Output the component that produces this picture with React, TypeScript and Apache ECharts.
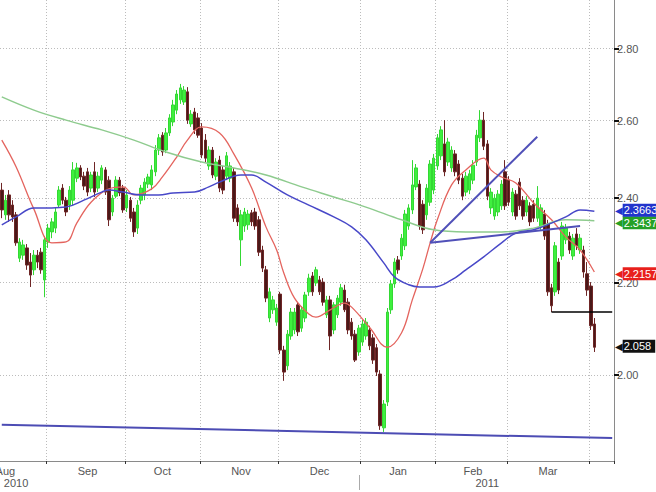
import React, { useEffect, useRef } from 'react';
import * as echarts from 'echarts';

const FONT = '"Liberation Sans", Arial, sans-serif';

// Weekday categories start on this date
const START_DATE = [2010, 7, 13];
const CATEGORY_COUNT = 172;

const monthStartIndex = [13, 35, 56, 78, 101, 122, 142, 165];
const monthLabelIndex = [1, 24, 45, 67, 89, 111, 132, 153];
const monthLabels = ['Aug', 'Sep', 'Oct', 'Nov', 'Dec', 'Jan', 'Feb', 'Mar'];
const yearDividerIndex = [100];
const yearLabelIndex = [4, 136];
const yearLabels = ['2010', '2011'];
const yTickValues = [2.0, 2.2, 2.4, 2.6, 2.8];

const opens = [
  2.420, 2.359, 2.408, 2.383, 2.359, 2.256, 2.263, 2.280, 2.247, 2.229,
  2.263, 2.270, 2.206, 2.294, 2.318, 2.327, 2.383, 2.425, 2.395, 2.383,
  2.395, 2.450, 2.476, 2.455, 2.466, 2.425, 2.466, 2.425, 2.445, 2.471,
  2.445, 2.366, 2.405, 2.445, 2.425, 2.376, 2.395, 2.366, 2.327, 2.395,
  2.408, 2.435, 2.433, 2.466, 2.522, 2.561, 2.522, 2.567, 2.596, 2.628,
  2.656, 2.650, 2.678, 2.591, 2.623, 2.607, 2.580, 2.548, 2.481, 2.522,
  2.455, 2.496, 2.471, 2.455, 2.450, 2.466, 2.376, 2.299, 2.332, 2.335,
  2.364, 2.366, 2.347, 2.275, 2.229, 2.121, 2.139, 2.112, 2.174, 2.052,
  2.019, 2.082, 2.095, 2.150, 2.099, 2.121, 2.179, 2.215, 2.199, 2.206,
  2.201, 2.128, 2.161, 2.095, 2.128, 2.156, 2.183, 2.156, 2.112, 2.086,
  2.048, 2.069, 2.082, 2.095, 2.078, 2.057, 2.002, 1.894, 1.945, 2.139,
  2.197, 2.252, 2.261, 2.285, 2.332, 2.371, 2.428, 2.435, 2.385, 2.359,
  2.390, 2.420, 2.481, 2.507, 2.538, 2.491, 2.476, 2.512, 2.486, 2.450,
  2.415, 2.420, 2.445, 2.491, 2.554, 2.601, 2.538, 2.376, 2.356, 2.366,
  2.381, 2.466, 2.445, 2.366, 2.410, 2.440, 2.395, 2.366, 2.381, 2.385,
  2.351, 2.332, 2.361, 2.337, 2.188, 2.179, 2.247, 2.261, 2.299, 2.308,
  2.261, 2.313, 2.275, 2.275, 2.220, 2.192, 2.108,
];

const closes = [
  2.371, 2.395, 2.359, 2.354, 2.292, 2.294, 2.287, 2.240, 2.217, 2.263,
  2.247, 2.229, 2.299, 2.327, 2.342, 2.366, 2.420, 2.395, 2.366, 2.420,
  2.471, 2.476, 2.453, 2.430, 2.415, 2.458, 2.415, 2.455, 2.476, 2.415,
  2.347, 2.400, 2.445, 2.413, 2.371, 2.408, 2.351, 2.318, 2.383, 2.425,
  2.440, 2.453, 2.471, 2.522, 2.554, 2.517, 2.567, 2.607, 2.642, 2.672,
  2.689, 2.683, 2.601, 2.617, 2.575, 2.561, 2.509, 2.501, 2.522, 2.458,
  2.491, 2.425, 2.420, 2.507, 2.481, 2.351, 2.342, 2.359, 2.366, 2.361,
  2.342, 2.332, 2.270, 2.233, 2.165, 2.179, 2.161, 2.143, 2.052, 2.006,
  2.086, 2.134, 2.134, 2.091, 2.139, 2.172, 2.210, 2.179, 2.229, 2.179,
  2.156, 2.161, 2.082, 2.150, 2.165, 2.188, 2.139, 2.095, 2.082, 2.031,
  2.099, 2.108, 2.112, 2.061, 2.031, 2.006, 1.898, 1.941, 2.134, 2.197,
  2.247, 2.229, 2.303, 2.361, 2.376, 2.433, 2.476, 2.332, 2.323, 2.425,
  2.486, 2.501, 2.554, 2.575, 2.466, 2.543, 2.522, 2.466, 2.445, 2.405,
  2.455, 2.461, 2.483, 2.561, 2.601, 2.532, 2.405, 2.415, 2.400, 2.410,
  2.435, 2.381, 2.390, 2.415, 2.356, 2.381, 2.356, 2.395, 2.342, 2.351,
  2.400, 2.376, 2.308, 2.179, 2.148, 2.285, 2.183, 2.332, 2.327, 2.275,
  2.303, 2.285, 2.303, 2.224, 2.183, 2.104, 2.058,
];

const lows = [
  2.351, 2.347, 2.342, 2.342, 2.285, 2.247, 2.252, 2.229, 2.190, 2.217,
  2.233, 2.220, 2.167, 2.280, 2.303, 2.315, 2.376, 2.385, 2.356, 2.371,
  2.383, 2.440, 2.445, 2.420, 2.405, 2.415, 2.403, 2.415, 2.435, 2.408,
  2.332, 2.356, 2.400, 2.405, 2.364, 2.366, 2.342, 2.306, 2.313, 2.385,
  2.395, 2.425, 2.420, 2.455, 2.509, 2.507, 2.514, 2.559, 2.585, 2.617,
  2.645, 2.642, 2.591, 2.583, 2.564, 2.554, 2.501, 2.491, 2.471, 2.450,
  2.445, 2.415, 2.410, 2.445, 2.440, 2.342, 2.332, 2.238, 2.318, 2.323,
  2.332, 2.323, 2.261, 2.224, 2.156, 2.112, 2.130, 2.104, 2.044, 1.988,
  2.010, 2.074, 2.086, 2.082, 2.091, 2.112, 2.170, 2.170, 2.192, 2.172,
  2.148, 2.121, 2.052, 2.086, 2.121, 2.148, 2.134, 2.086, 2.074, 2.027,
  2.040, 2.061, 2.074, 2.052, 2.023, 1.998, 1.890, 1.886, 1.937, 2.130,
  2.188, 2.220, 2.252, 2.275, 2.323, 2.361, 2.420, 2.323, 2.313, 2.347,
  2.381, 2.410, 2.471, 2.496, 2.455, 2.481, 2.466, 2.455, 2.435, 2.395,
  2.405, 2.410, 2.435, 2.481, 2.543, 2.522, 2.395, 2.361, 2.347, 2.356,
  2.371, 2.371, 2.381, 2.356, 2.347, 2.371, 2.347, 2.356, 2.332, 2.342,
  2.342, 2.323, 2.299, 2.170, 2.134, 2.170, 2.174, 2.252, 2.289, 2.266,
  2.252, 2.275, 2.266, 2.211, 2.170, 2.095, 2.048,
];

const highs = [
  2.438, 2.408, 2.420, 2.395, 2.366, 2.303, 2.299, 2.289, 2.268, 2.275,
  2.275, 2.280, 2.308, 2.337, 2.351, 2.376, 2.430, 2.435, 2.403, 2.430,
  2.491, 2.489, 2.483, 2.466, 2.476, 2.466, 2.491, 2.466, 2.483, 2.478,
  2.455, 2.408, 2.455, 2.453, 2.433, 2.420, 2.403, 2.376, 2.395, 2.433,
  2.450, 2.461, 2.483, 2.535, 2.564, 2.569, 2.580, 2.617, 2.656, 2.683,
  2.700, 2.694, 2.691, 2.628, 2.634, 2.620, 2.593, 2.564, 2.532, 2.530,
  2.501, 2.507, 2.481, 2.517, 2.491, 2.476, 2.385, 2.371, 2.376, 2.371,
  2.371, 2.376, 2.356, 2.285, 2.238, 2.188, 2.170, 2.152, 2.179, 2.061,
  2.095, 2.143, 2.143, 2.156, 2.147, 2.179, 2.220, 2.224, 2.236, 2.215,
  2.210, 2.170, 2.170, 2.156, 2.172, 2.197, 2.195, 2.165, 2.121, 2.095,
  2.106, 2.117, 2.121, 2.104, 2.086, 2.065, 2.010, 1.949, 2.143, 2.206,
  2.256, 2.261, 2.313, 2.371, 2.385, 2.496, 2.486, 2.445, 2.395, 2.435,
  2.496, 2.512, 2.564, 2.585, 2.601, 2.554, 2.532, 2.522, 2.496, 2.461,
  2.466, 2.471, 2.496, 2.575, 2.628, 2.623, 2.548, 2.425, 2.410, 2.420,
  2.445, 2.496, 2.455, 2.425, 2.420, 2.450, 2.405, 2.405, 2.390, 2.395,
  2.430, 2.385, 2.371, 2.347, 2.197, 2.294, 2.256, 2.342, 2.337, 2.318,
  2.313, 2.327, 2.313, 2.285, 2.247, 2.201, 2.121,
];

// Moving averages: [category index, value]
const maShort = [
  [0, 2.548], [4, 2.479], [9, 2.373], [14, 2.292], [18, 2.294], [21, 2.339], [25, 2.390],
  [30, 2.423], [34, 2.428], [37, 2.408], [42, 2.423], [45, 2.453], [49, 2.504], [52, 2.548],
  [56, 2.583], [61, 2.567], [65, 2.512], [70, 2.425], [74, 2.330], [77, 2.275], [79, 2.222],
  [82, 2.165], [86, 2.130], [88, 2.123], [92, 2.139], [96, 2.154], [98, 2.145], [103, 2.101],
  [108, 2.058], [112, 2.089], [115, 2.161], [118, 2.233], [120, 2.292], [122, 2.347],
  [126, 2.433], [130, 2.471], [135, 2.501], [137, 2.471], [140, 2.453], [144, 2.438],
  [149, 2.388], [154, 2.347], [158, 2.306], [162, 2.275], [166, 2.224],
];
const maMid = [
  [0, 2.335], [4, 2.354], [9, 2.376], [14, 2.376], [18, 2.378], [23, 2.395], [28, 2.415],
  [30, 2.420], [34, 2.415], [39, 2.408], [44, 2.408], [48, 2.413], [54, 2.415], [58, 2.428],
  [61, 2.440], [67, 2.458], [70, 2.458], [74, 2.440], [80, 2.408], [86, 2.383], [93, 2.354],
  [98, 2.330], [102, 2.299], [107, 2.245], [110, 2.213], [114, 2.195], [117, 2.190],
  [121, 2.190], [126, 2.206], [130, 2.229], [135, 2.259], [140, 2.292], [144, 2.315],
  [149, 2.323], [154, 2.339], [158, 2.354], [162, 2.371], [166, 2.368],
];
const maLong = [
  [0, 2.664], [9, 2.628], [18, 2.601], [28, 2.575], [37, 2.548], [46, 2.517], [56, 2.491],
  [65, 2.476], [74, 2.458], [84, 2.428], [93, 2.403], [102, 2.378], [112, 2.347],
  [121, 2.323], [130, 2.318], [140, 2.318], [149, 2.327], [158, 2.347], [166, 2.345],
];

const trendRising = [[120, 2.292], [150, 2.557]];
const trendFlat = [[120, 2.292], [162, 2.332]];
const supportLine = [[0, 1.900], [171, 1.874]];
const breakLevel = [[154, 2.134], [171, 2.134]];

const lastShort = 2.2157;
const lastMid = 2.3663;
const lastLong = 2.3437;
const lastClose = 2.058;

function buildCategories(): string[] {
  const out: string[] = [];
  const d = new Date(Date.UTC(START_DATE[0], START_DATE[1], START_DATE[2]));
  while (out.length < CATEGORY_COUNT) {
    const wd = d.getUTCDay();
    if (wd !== 0 && wd !== 6) out.push(d.toISOString().slice(0, 10));
    d.setUTCDate(d.getUTCDate() + 1);
  }
  return out;
}

function tag(value: number, bg: string) {
  return {
    silent: true,
    symbol: ['none', 'none'],
    lineStyle: { width: 0, color: 'rgba(0,0,0,0)', type: 'solid' },
    emphasis: { disabled: true },
    label: {
      show: true,
      position: 'end',
      distance: 1,
      formatter: '{a|\u25C0}{b|' + String(value) + '}',
      rich: {
        a: { color: bg, fontSize: 10, fontFamily: '"DejaVu Sans"', padding: [0, 0, 0, 0] },
        b: {
          backgroundColor: bg,
          color: '#ffffff',
          fontSize: 11,
          fontFamily: FONT,
          padding: [1, 4, 1, 1],
          lineHeight: 12,
        },
      },
    },
    data: [{ yAxis: value }],
  };
}

export default function App() {
  const ref = useRef<HTMLDivElement>(null);
  useEffect(() => {
    if (!ref.current) return;
    const chart = echarts.init(ref.current, undefined, { renderer: 'svg' });
    const categories = buildCategories();
    const candles = opens.map((o, i) => [o, closes[i], lows[i], highs[i]]);
    const option: any = {
      animation: false,
      backgroundColor: '#ffffff',
      textStyle: { fontFamily: FONT },
      grid: { left: 0, right: 42, top: 0, bottom: 31, outerBoundsMode: 'none' },
      xAxis: [
        {
          type: 'category',
          data: categories,
          boundaryGap: true,
          axisLine: { show: true, lineStyle: { color: '#8a8a8a', width: 1 } },
          axisTick: {
            show: true,
            interval: (i: number) => monthStartIndex.includes(i),
            length: 3,
            lineStyle: { color: '#333333' },
          },
          axisLabel: {
            show: true,
            interval: (i: number) => monthLabelIndex.includes(i),
            formatter: (_v: string, i: number) => monthLabels[monthLabelIndex.indexOf(i)] ?? '',
            color: '#555555',
            fontSize: 11,
            fontFamily: FONT,
            margin: 4,
          },
          splitLine: {
            show: true,
            interval: (i: number) => monthStartIndex.includes(i),
            lineStyle: { color: '#bcbcbc', type: [1, 2], width: 1 },
          },
        },
        {
          type: 'category',
          data: categories,
          boundaryGap: true,
          position: 'bottom',
          offset: 14,
          axisLine: { show: false },
          axisTick: {
            show: true,
            alignWithLabel: true,
            interval: (i: number) => yearDividerIndex.includes(i),
            length: 15,
            lineStyle: { color: '#aaaaaa' },
          },
          axisLabel: {
            show: true,
            interval: (i: number) => yearLabelIndex.includes(i),
            formatter: (_v: string, i: number) => yearLabels[yearLabelIndex.indexOf(i)] ?? '',
            color: '#555555',
            fontSize: 11,
            fontFamily: FONT,
            margin: 2,
          },
          splitLine: { show: false },
        },
      ],
      yAxis: {
        type: 'log',
        logBase: 10,
        min: 1.8303,
        max: 2.944,
        position: 'right',
        axisLine: { show: true, lineStyle: { color: '#8a8a8a', width: 1 } },
        axisTick: {
          show: true,
          customValues: yTickValues,
          length: 5,
          lineStyle: { color: '#111111', width: 2 },
        },
        axisLabel: {
          show: true,
          customValues: yTickValues,
          formatter: (v: number) => Number(v).toFixed(2),
          color: '#555555',
          fontSize: 11,
          fontFamily: FONT,
          margin: 3,
        },
        splitLine: { show: true, lineStyle: { color: '#bcbcbc', type: [1, 2], width: 1 } },
        minorTick: { show: false },
        minorSplitLine: { show: false },
      },
      series: [
        {
          type: 'candlestick',
          data: candles,
          barWidth: 3,
          itemStyle: {
            color: '#3ef03e',
            color0: '#4a1818',
            borderColor: '#34d834',
            borderColor0: '#6e2626',
            borderWidth: 1,
          },
          markLine: tag(lastClose, '#111111'),
          z: 2,
        },
        {
          type: 'line',
          data: maShort,
          smooth: 0.4,
          showSymbol: false,
          silent: true,
          lineStyle: { color: '#e4645e', width: 1.3 },
          markLine: tag(lastShort, '#e8201c'),
          z: 3,
        },
        {
          type: 'line',
          data: maLong,
          smooth: 0.4,
          showSymbol: false,
          silent: true,
          lineStyle: { color: '#8ecb8e', width: 1.5 },
          markLine: tag(lastLong, '#26a026'),
          z: 3,
        },
        {
          type: 'line',
          data: maMid,
          smooth: 0.4,
          showSymbol: false,
          silent: true,
          lineStyle: { color: '#4848c8', width: 1.5 },
          markLine: tag(lastMid, '#2234cc'),
          z: 3,
        },
        {
          type: 'line',
          data: trendRising,
          showSymbol: false,
          silent: true,
          lineStyle: { color: '#5050b8', width: 2 },
          z: 4,
        },
        {
          type: 'line',
          data: trendFlat,
          showSymbol: false,
          silent: true,
          lineStyle: { color: '#5050b8', width: 2 },
          z: 4,
        },
        {
          type: 'line',
          data: supportLine,
          showSymbol: false,
          silent: true,
          lineStyle: { color: '#4c4cb4', width: 2 },
          z: 4,
        },
        {
          type: 'line',
          data: breakLevel,
          showSymbol: false,
          silent: true,
          lineStyle: { color: '#000000', width: 1.5 },
          z: 4,
        },
      ],
    };
    chart.setOption(option);
    return () => chart.dispose();
  }, []);
  return (
    <div
      ref={ref}
      style={{ position: 'absolute', left: 0, top: 0, width: 656, height: 492, background: '#ffffff' }}
    />
  );
}
